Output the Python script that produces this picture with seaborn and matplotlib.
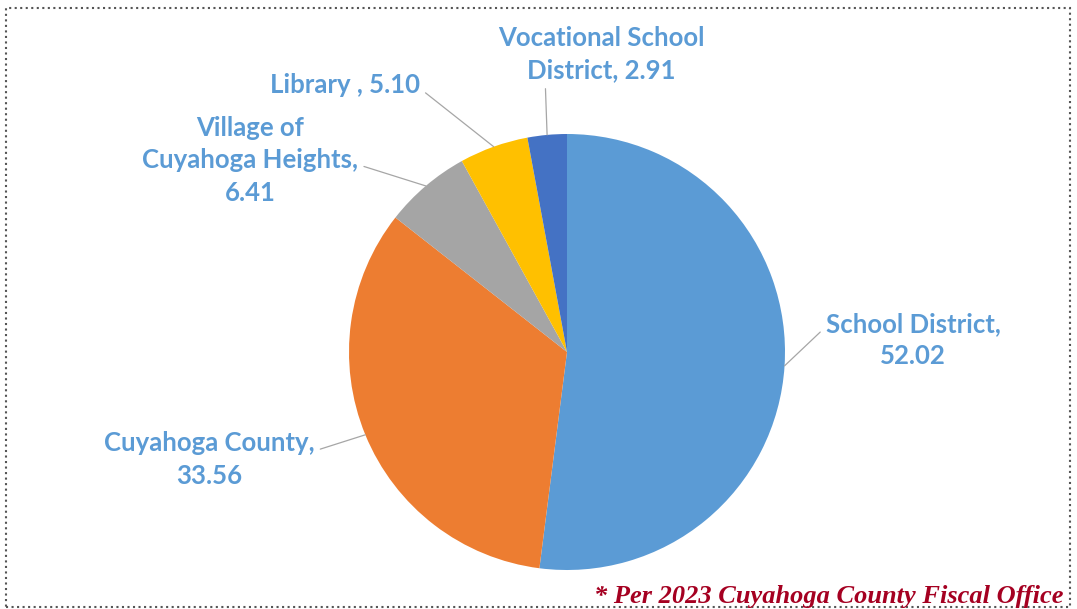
import numpy as np
import seaborn as sns
import matplotlib.pyplot as plt
from matplotlib.patches import Rectangle

# Tax distribution values (per 2023 Cuyahoga County Fiscal Office)
labels = ["School District,\n52.02", "Cuyahoga County,\n33.56",
          "Village of\nCuyahoga Heights,\n6.41", "Library , 5.10",
          "Vocational School\nDistrict, 2.91"]
values = [52.02, 33.56, 6.41, 5.10, 2.91]
colors = ["#5B9BD5", "#ED7D31", "#A5A5A5", "#FFC000", "#4472C4"]

# label placement (data coords, pie radius = 1) and where the leader leaves the text box
label_pos = [(1.587, 0.055), (-1.642, -0.493), (-1.454, 0.880), (-1.018, 1.225), (0.156, 1.365)]
label_rel = [(0.0, 0.73), (1.0, 0.65), (1.0, 0.45), (1.0, 0.35), (0.23, 0.0)]

sns.set_theme(style="white")
plt.rcParams["font.family"] = ["Lato", "DejaVu Sans"]

W, H = 1077, 609
fig = plt.figure(figsize=(W / 100, H / 100), dpi=100)
cx, cy, r = 567, 352, 218
ax = fig.add_axes([(cx - r) / W, (H - cy - r) / H, 2 * r / W, 2 * r / H])

wedges, _ = ax.pie(values, colors=colors, startangle=90, counterclock=False,
                   radius=1, wedgeprops=dict(linewidth=0))
ax.set_xlim(-1, 1)
ax.set_ylim(-1, 1)
ax.set_aspect("equal")
ax.axis("off")

for w, lab, pos, rel in zip(wedges, labels, label_pos, label_rel):
    mid = np.deg2rad((w.theta1 + w.theta2) / 2)
    edge = (np.cos(mid), np.sin(mid))
    ax.annotate(lab, xy=edge, xytext=pos, ha="center", va="center",
                multialignment="center", fontsize=18.5, fontweight="bold",
                color="#5B9BD5", linespacing=1.42, annotation_clip=False,
                arrowprops=dict(arrowstyle="-", color="#A6A6A6", lw=0.9,
                                shrinkA=2, shrinkB=0, relpos=rel))

fig.text(1063 / W, 1 - 596 / H, "* Per 2023 Cuyahoga County Fiscal Office",
         ha="right", va="center", fontsize=19, fontweight="bold", style="italic",
         family=["Liberation Serif", "DejaVu Serif"], color="#A50021")

fig.patches.append(Rectangle((6 / W, 2 / H), 1064 / W, 599 / H, transform=fig.transFigure,
                             fill=False, linestyle=":", linewidth=1.5, edgecolor="#555555"))

fig.savefig("out.png", dpi=100, facecolor="white")
